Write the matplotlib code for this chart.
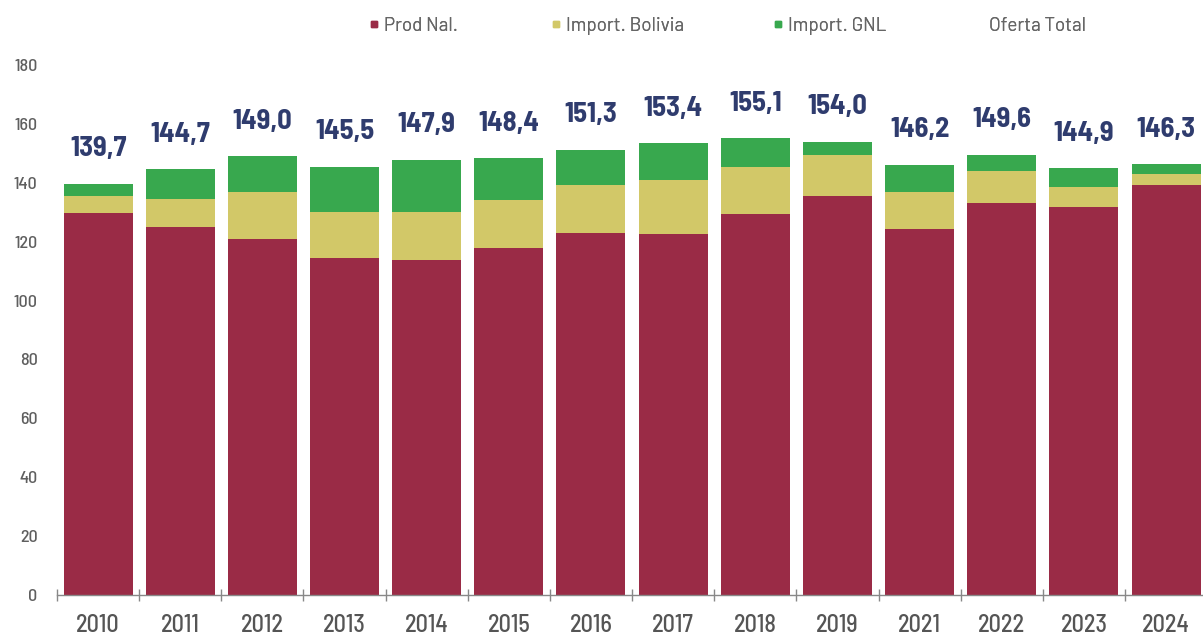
import matplotlib
matplotlib.use("Agg")
import matplotlib.pyplot as plt
from matplotlib.lines import Line2D
import numpy as np

years = ["2010", "2011", "2012", "2013", "2014", "2015", "2016",
         "2017", "2018", "2019", "2021", "2022", "2023", "2024"]
prod_nal = [129.6, 125.1, 120.9, 114.4, 113.8, 117.8, 123.0,
            122.5, 129.3, 135.5, 124.2, 133.0, 131.9, 139.2]
imp_bolivia = [6.0, 9.4, 16.1, 15.6, 16.4, 16.4, 16.2,
               18.5, 16.2, 14.0, 12.8, 10.9, 6.5, 3.8]
imp_gnl = [4.1, 10.2, 12.0, 15.5, 17.7, 14.2, 12.1,
           12.4, 9.6, 4.5, 9.2, 5.7, 6.5, 3.3]
oferta_total = [139.7, 144.7, 149.0, 145.5, 147.9, 148.4, 151.3,
                153.4, 155.1, 154.0, 146.2, 149.6, 144.9, 146.3]
yticks = [0, 20, 40, 60, 80, 100, 120, 140, 160, 180]

RED = "#9a2b46"
YELLOW = "#d2c868"
GREEN = "#38a84e"
NAVY = "#2f3c6e"
GREY = "#555555"

plt.rcParams["font.family"] = ["Barlow Semi Condensed", "DejaVu Sans"]

fig = plt.figure(figsize=(12.03, 6.36), dpi=100)
ax = fig.add_axes([57 / 1203, 41 / 636, 1 - 57 / 1203, 530 / 636])

x = np.arange(len(years))
w = 0.84
prod = np.array(prod_nal)
bol = np.array(imp_bolivia)
gnl = np.array(imp_gnl)
ax.bar(x, prod, w, color=RED, label="Prod Nal.")
ax.bar(x, bol, w, bottom=prod, color=YELLOW, label="Import. Bolivia")
ax.bar(x, gnl, w, bottom=prod + bol, color=GREEN, label="Import. GNL")

tops = prod + bol + gnl
for xi, top, tot in zip(x, tops, oferta_total):
    ax.annotate(f"{tot:.1f}".replace(".", ","), (xi, top),
                xytext=(0, 25), textcoords="offset points",
                ha="center", va="center", fontsize=20.5,
                fontweight="bold", color=NAVY, annotation_clip=False)

ax.set_xlim(-0.5, 13.45)
ax.set_ylim(0, 180)
ax.set_yticks(yticks)
ax.set_xticks(x)
ax.set_xticklabels(years)
ax.set_xticks(np.arange(-0.5, 13.5, 1.0), minor=True)
ax.tick_params(axis="x", which="major", length=0, pad=14,
               labelsize=17.5, labelcolor=GREY)
ax.tick_params(axis="x", which="minor", length=9, direction="inout",
               color="#888888", width=1)
ax.tick_params(axis="y", length=0, pad=14, labelsize=13, labelcolor="#5f5f5f")
for lbl in ax.get_xticklabels() + ax.get_yticklabels():
    lbl.set_fontweight("medium")
for s in ["top", "right", "left"]:
    ax.spines[s].set_visible(False)
ax.spines["bottom"].set_color("#888888")
ax.spines["bottom"].set_linewidth(1)

# legend entries placed one by one along the top
entries = [
    (Line2D([], [], marker="s", ls="none", color=RED, markersize=5), "Prod Nal.", 369),
    (Line2D([], [], marker="s", ls="none", color=YELLOW, markersize=5), "Import. Bolivia", 551),
    (Line2D([], [], marker="s", ls="none", color=GREEN, markersize=5), "Import. GNL", 773),
    (Line2D([], [], ls="none"), "Oferta Total", 974),
]
for h, lab, px in entries:
    leg = fig.legend([h], [lab], loc="center left",
                     bbox_to_anchor=(px / 1203, 1 - 26 / 636),
                     frameon=False, handlelength=0.5,
                     prop={"family": ["Barlow", "DejaVu Sans"], "size": 13.5},
                     handletextpad=0.3, borderpad=0, borderaxespad=0,
                     labelcolor="#666666")
    fig.add_artist(leg)

fig.savefig("out.png", dpi=100)
